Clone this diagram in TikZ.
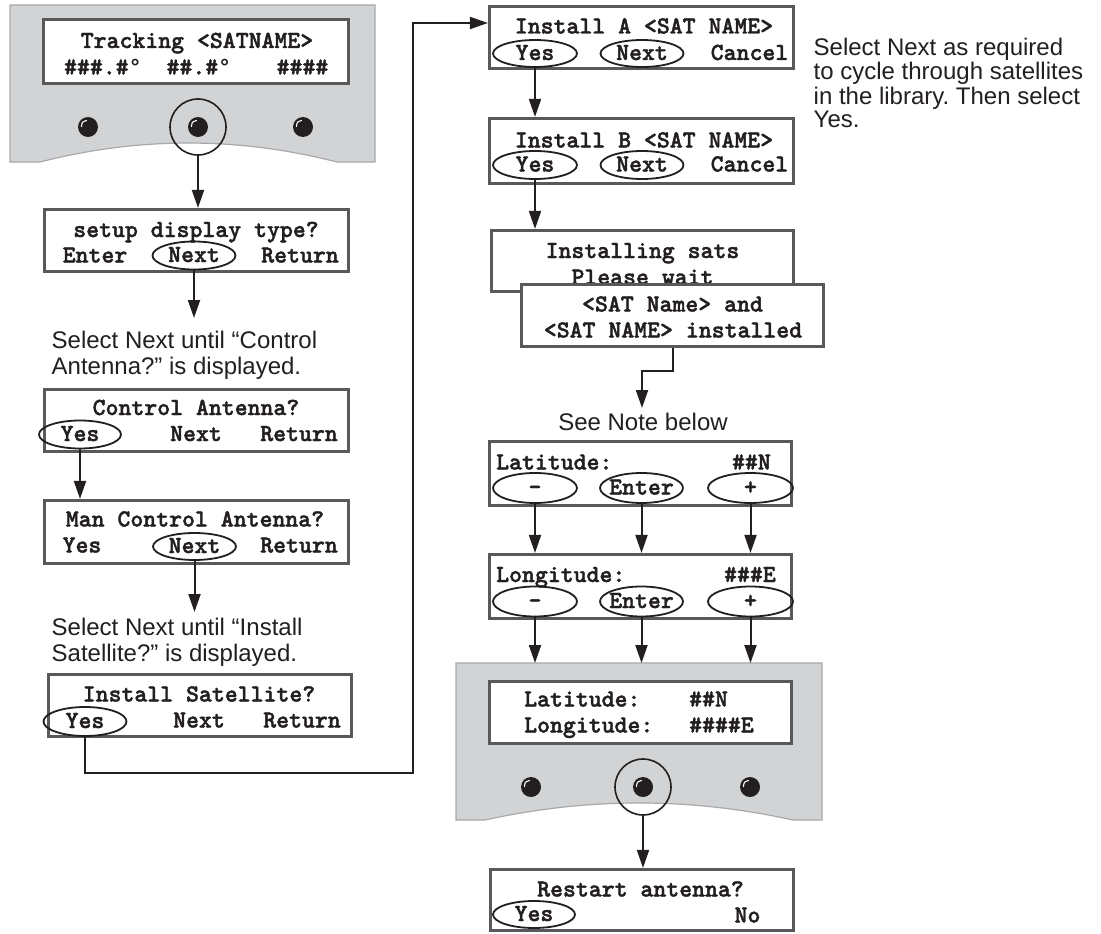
\documentclass[tikz,border=0pt]{standalone}
\usepackage{fontspec}
\newfontfamily\notefont{Liberation Sans}
\newfontfamily\lcdfont{lmmonolt10-bold.otf}[FakeBold=1.6]
\newfontfamily\degfont{Liberation Mono}
\usetikzlibrary{arrows.meta,shapes.geometric}
\frenchspacing
\definecolor{ink}{HTML}{231F20}
\definecolor{frame}{HTML}{58595B}
\definecolor{panelfill}{HTML}{D1D3D4}
\definecolor{paneledge}{HTML}{A7A9AC}
% heavy slab-serif display face
\newcommand\lcdface{\lcdfont\fontsize{24.6}{26}\selectfont}
% ring-shaped degree sign
\newcommand\degring{{\degfont\bfseries\fontsize{22}{26}\selectfont °}}
% zero-width label so the ellipse size comes from its minimum size only
\newcommand\btntext[1]{\makebox[0pt]{#1}}
\tikzset{
  lcdbox/.style={draw=frame, line width=3.2pt, fill=white, inner sep=0pt},
  lcd/.style={font=\lcdface, text=ink,
              inner sep=0pt, text height=13pt, text depth=0pt},
  btn/.style={lcd, ellipse, draw=ink, line width=1.8pt,
              minimum width=83pt, minimum height=28pt},
  note/.style={font={\notefont\fontsize{24}{26}\selectfont}, text=ink,
               inner sep=0pt, anchor=base west},
  flow/.style={draw=ink, line width=2pt, -{Triangle[length=18pt,width=12pt]}},
  knob/.style={circle, fill=ink, minimum size=20pt, inner sep=0pt,
    path picture={\draw[white, line width=1.1pt, line cap=round]
      ([xshift=-6.5pt,yshift=0.5pt]path picture bounding box.center)
      .. controls ([xshift=-6pt,yshift=5pt]path picture bounding box.center)
      .. ([xshift=-1.5pt,yshift=6.5pt]path picture bounding box.center);}},
  ring/.style={circle, draw=ink, line width=1.6pt, minimum size=56pt, inner sep=0pt},
  panel/.style={fill=panelfill, draw=paneledge, line width=1.2pt},
}
\begin{document}
\begin{tikzpicture}[x=1pt,y=-1pt]
\useasboundingbox (0,0) rectangle (1101,934);
\fill[white] (0,0) rectangle (1101,934);

% ---- front panels ----
\path[panel] (10,5) -- (375,5) -- (375,162) -- (337,162)
  .. controls (238,136.7) and (139,136.7) .. (40,162) -- (10,162) -- cycle;
\path[panel] (456,663) -- (822,663) -- (822,820) -- (793,820)
  .. controls (690,797.3) and (588,797.3) .. (485,820) -- (456,820) -- cycle;
\coordinate (p2top) at (640,663);

% ---- top display ----
\node[lcdbox, minimum width=305pt, minimum height=64pt] (lcd1) at (196,51.5) {};
\node[lcd] (l1a) at (197,41.5) {Tracking <SATNAME>};
\node[lcd] (l1b) at (103,68) {\#\#\#.\#\degring};
\node[lcd] (l1c) at (199,68) {\#\#.\#\degring};
\node[lcd] (l1d) at (302.5,68) {\#\#\#\#};
\node[knob] (k1) at (88,127) {};
\node[knob] (k2) at (198,127) {};
\node[knob] (k3) at (303,127) {};
\node[ring] (hl1) at (198,127) {};

% ---- setup display type ----
\node[lcdbox, minimum width=304pt, minimum height=62pt] (sd) at (196.5,240.5) {};
\node[lcd] (sdT) at (196,230.5) {setup display type?};
\node[lcd] (sdE) at (95,256) {Enter};
\node[btn] (sdNext) at (194,255.5) {\btntext{Next}};
\node[lcd] (sdR) at (300,256) {Return};
\coordinate (tipA) at (194,318);

\node[note] (n1a) at (51.5,348) {Select Next until “Control};
\node[note] (n1b) at (51.5,374) {Antenna?” is displayed.};

% ---- control antenna ----
\node[lcdbox, minimum width=304pt, minimum height=62pt] (ct) at (196.5,420.5) {};
\node[lcd] (ctT) at (196,408.5) {Control Antenna?};
\node[btn, minimum width=82pt] (ctYes) at (80,434.5) {\btntext{Yes}};
\node[lcd] (ctN) at (196,434.5) {Next};
\node[lcd] (ctR) at (299,434.5) {Return};

% ---- man control antenna ----
\node[lcdbox, minimum width=304pt, minimum height=63pt] (man) at (196.5,532) {};
\node[lcd] (manT) at (195,520) {Man Control Antenna?};
\node[lcd] (manY) at (82,546) {Yes};
\node[btn, minimum height=27pt] (manNext) at (194.5,546.5) {\btntext{Next}};
\node[lcd] (manR) at (299,546) {Return};
\coordinate (tipB) at (194.5,612);

\node[note] (n2a) at (51.5,635) {Select Next until “Install};
\node[note] (n2b) at (51.5,661) {Satellite?” is displayed.};

% ---- install satellite ----
\node[lcdbox, minimum width=303pt, minimum height=62pt] (is) at (200,705.5) {};
\node[lcd] (isT) at (199,695) {Install Satellite?};
\node[btn, minimum height=29pt] (isYes) at (85,721.5) {\btntext{Yes}};
\node[lcd] (isN) at (199,721) {Next};
\node[lcd] (isR) at (302,721) {Return};
\coordinate (turnA) at (413,773);
\coordinate (turnB) at (413,23);

% ---- install A / B ----
\node[lcdbox, minimum width=304pt, minimum height=62pt] (instA) at (641.5,37.5) {};
\node[lcd] (aT) at (644,27) {Install A <SAT NAME>};
\node[btn, minimum width=84pt, minimum height=27pt] (aYes) at (535,53.5) {\btntext{Yes}};
\node[btn, minimum height=27pt] (aNext) at (642,53.5) {\btntext{Next}};
\node[lcd] (aC) at (749.5,53.5) {Cancel};

\node[lcdbox, minimum width=304pt, minimum height=65pt] (instB) at (641.5,151) {};
\node[lcd] (bT) at (644,141) {Install B <SAT NAME>};
\node[btn, minimum width=84pt, minimum height=28pt] (bYes) at (535,165) {\btntext{Yes}};
\node[btn, minimum height=28pt] (bNext) at (642,165) {\btntext{Next}};
\node[lcd] (bC) at (749.5,165) {Cancel};

\node[note] (n3a) at (813.5,56) {Select Next as required};
\node[note] (n3b) at (813.5,80) {to cycle through satellites};
\node[note] (n3c) at (813.5,104) {in the library. Then select};
\node[note] (n3d) at (813.5,128) {Yes.};

% ---- installing / installed ----
\node[lcdbox, minimum width=302pt, minimum height=61pt] (busy) at (642.5,261) {};
\node[lcd] (busyA) at (642.5,251.5) {Installing sats};
\node[lcd] (busyB) at (642.5,278) {Please wait};
\node[lcdbox, minimum width=302pt, minimum height=62pt] (done) at (672.5,315.5) {};
\node[lcd] (doneA) at (672.5,305) {<SAT Name> and};
\node[lcd] (doneB) at (673,331) {<SAT NAME> installed};
\coordinate (jog) at (642,371);
\coordinate (tipC) at (642,408);

\node[note, anchor=base] (n4) at (643,430) {See Note below};

% ---- latitude / longitude entry ----
\node[lcdbox, minimum width=302pt, minimum height=64pt] (lat) at (640.5,473.5) {};
\node[lcd, anchor=west] (latT) at (496,463) {Latitude:};
\node[lcd, anchor=east] (latV) at (771,463) {\#\#N};
\node[btn, minimum width=84pt, minimum height=30pt] (latM) at (535,488) {\btntext{-}};
\node[btn, minimum width=83pt, minimum height=30pt] (latE) at (641.5,488) {\btntext{Enter}};
\node[btn, minimum width=85pt, minimum height=30pt] (latP) at (750.5,488) {\btntext{+}};

\node[lcdbox, minimum width=302pt, minimum height=64pt] (lon) at (640.5,586.5) {};
\node[lcd, anchor=west] (lonT) at (496,575.5) {Longitude:};
\node[lcd, anchor=east] (lonV) at (776,575.5) {\#\#\#E};
\node[btn, minimum width=84pt, minimum height=30pt] (lonM) at (535,601.5) {\btntext{-}};
\node[btn, minimum width=83pt, minimum height=30pt] (lonE) at (641.5,601.5) {\btntext{Enter}};
\node[btn, minimum width=85pt, minimum height=30pt] (lonP) at (750.5,601.5) {\btntext{+}};

% ---- bottom display ----
\node[lcdbox, minimum width=302pt, minimum height=62pt] (lcd2) at (640.5,712.5) {};
\node[lcd, anchor=west] (d2a) at (524,700) {Latitude:};
\node[lcd, anchor=west] (d2b) at (689,700) {\#\#N};
\node[lcd, anchor=west] (d2c) at (524,726) {Longitude:};
\node[lcd, anchor=west] (d2d) at (689,726) {\#\#\#\#E};
\node[knob] (k4) at (531,787) {};
\node[knob] (k5) at (643,787) {};
\node[knob] (k6) at (750,787) {};
\node[ring] (hl2) at (643,787) {};

% ---- restart ----
\node[lcdbox, minimum width=303pt, minimum height=61pt] (rst) at (642,900) {};
\node[lcd] (rstT) at (640.5,890) {Restart antenna?};
\node[btn, minimum width=82pt, minimum height=27pt] (rstYes) at (534,914.5) {\btntext{Yes}};
\node[lcd] (rstN) at (747.5,916) {No};

% ---- connectors ----
\draw[flow] (hl1.south) -- (hl1.south |- sd.north);
\draw[flow] (sdNext.south) -- (tipA);
\draw[flow] (ctYes.south) -- (ctYes.south |- man.north);
\draw[flow] (manNext.south) -- (tipB);
\draw[flow] (isYes.south) |- (turnA) |- (instA.west |- turnB);
\draw[flow] (aYes.south) -- (aYes.south |- instB.north);
\draw[flow] (bYes.south) -- (bYes.south |- busy.north);
\draw[flow] (done.south) |- (jog) -- (tipC);
\foreach \b in {M,E,P}{
  \draw[flow] (lat\b.south) -- (lat\b.south |- lon.north);
  \draw[flow] (lon\b.south) -- (lon\b.south |- p2top);
}
\draw[flow] (hl2.south) -- (hl2.south |- rst.north);
\end{tikzpicture}
\end{document}
